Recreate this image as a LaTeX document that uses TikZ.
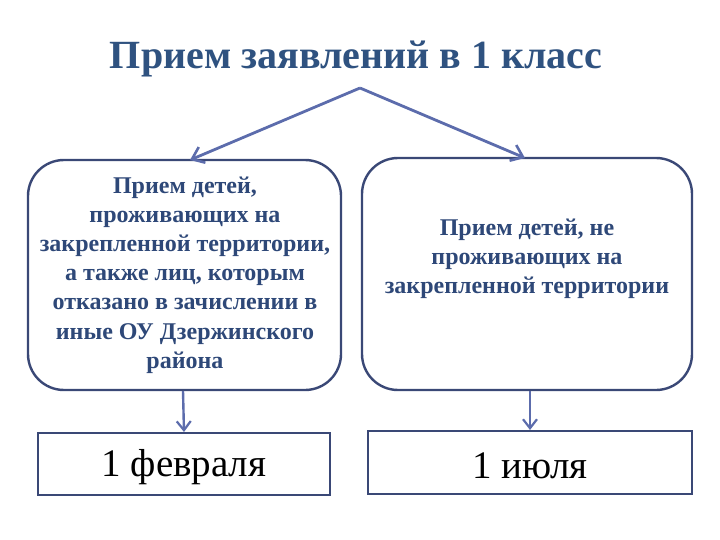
\documentclass[tikz,border=0pt]{standalone}
\usepackage{fontspec}
\setmainfont{Liberation Serif}
\usetikzlibrary{arrows.meta}
\definecolor{titleblue}{RGB}{47,82,128}
\definecolor{textblue}{RGB}{46,72,120}
\definecolor{arrowblue}{RGB}{92,108,172}
\definecolor{boxnavy}{RGB}{58,72,118}
\tikzset{
  rbox/.style={draw=boxnavy, line width=2.4pt, rounded corners=36pt, fill=white},
  dbox/.style={draw=boxnavy, line width=2pt, fill=white},
  btext/.style={text=textblue, font=\fontsize{24}{29.2}\selectfont\bfseries, align=center},
  dtext/.style={font=\fontsize{39}{44}\selectfont, text=black},
  arr/.style={draw=arrowblue, line width=2.8pt, -{Straight Barb[length=11pt,width=17pt,line width=2.6pt]}},
}
\begin{document}
\begin{tikzpicture}[x=1pt,y=-1pt]
\useasboundingbox (0,0) rectangle (720,540);
\node[text=titleblue, font=\fontsize{40}{46}\selectfont\bfseries] (title) at (356,59) {Прием заявлений в 1 класс};
\coordinate (apex) at (360,88);
\draw[rbox] (28,160) rectangle (341,390);
\draw[rbox] (362,158) rectangle (692,390);
\node[btext] (Lt) at (185,275) {Прием детей,\\проживающих на\\закрепленной территории,\\а также лиц, которым\\отказано в зачислении в\\иные ОУ Дзержинского\\района};
\node[btext] (Rt) at (527,259) {Прием детей, не\\проживающих на\\закрепленной территории};
\coordinate (Ltop) at (190,160);
\coordinate (Rtop) at (525,158);
\draw[arr] (apex) -- (Ltop);
\draw[arr] (apex) -- (Rtop);
\node[dbox, minimum width=292pt, minimum height=62pt] (Lb) at (184,464) {};
\node[dbox, minimum width=324pt, minimum height=63pt] (Rb) at (530,462.5) {};
\node[dtext] at ([yshift=-3pt]Lb) {1 февраля};
\node[dtext] at ([yshift=-3pt]Rb) {1 июля};
\coordinate (Lbot) at (183,391);
\coordinate (Rbot) at (530,391);
\draw[arr, line width=2.4pt, -{Straight Barb[length=9pt,width=14pt,line width=2.2pt]}] (Lbot) -- (Lb.north);
\draw[arr, line width=2.4pt, -{Straight Barb[length=9pt,width=14pt,line width=2.2pt]}] (Rbot) -- (Rb.north);
\end{tikzpicture}
\end{document}
